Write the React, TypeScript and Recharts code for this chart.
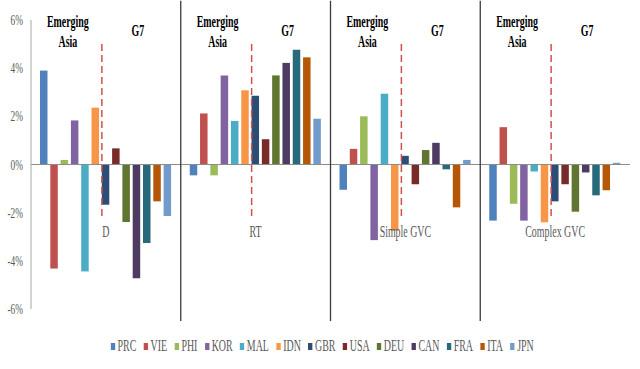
import React from "react";
import { Bar, BarChart, Legend, ReferenceLine, XAxis, YAxis } from "recharts";

const panels = ["D", "RT", "Simple GVC", "Complex GVC"];
const countries = ["PRC", "VIE", "PHI", "KOR", "MAL", "IDN", "GBR", "USA", "DEU", "CAN", "FRA", "ITA", "JPN"];
const colors = ["#4F81BD", "#C0504D", "#9BBB59", "#8064A2", "#4BACC6", "#F79646", "#2C4D75", "#772C2A", "#5F7530", "#4D3B62", "#276A7C", "#B65708", "#729ACA"];

// % change, one value per country
const dValues = [3.9, -4.32, 0.19, 1.83, -4.44, 2.36, -1.67, 0.67, -2.39, -4.72, -3.26, -1.53, -2.14];
const rtValues = [-0.45, 2.12, -0.45, 3.7, 1.81, 3.08, 2.85, 1.05, 3.7, 4.22, 4.76, 4.45, 1.9];
const simpleGvcValues = [-1.05, 0.65, 2.0, -3.14, 2.94, -2.75, 0.36, -0.82, 0.6, 0.9, -0.2, -1.78, 0.19];
const complexGvcValues = [-2.33, 1.55, -1.63, -2.33, -0.29, -2.4, -1.53, -0.82, -1.96, -0.33, -1.28, -1.07, 0.07];
const yTicks = [-6, -4, -2, 0, 2, 4, 6];

const series = [dValues, rtValues, simpleGvcValues, complexGvcValues];
const data = panels.map((panel, i) => {
  const row: Record<string, string | number> = { panel };
  countries.forEach((c, j) => {
    row[c] = series[i][j];
  });
  return row;
});

// the source picture is squeezed horizontally, text included
const SQUISH = 0.62;
const FONT = "'Liberation Serif', 'Times New Roman', serif";

function Squished({ x, y, children, anchor = "middle", size = 16, weight = "normal", fill = "#595959" }: any) {
  return (
    <text
      transform={`translate(${x},${y}) scale(${SQUISH},1)`}
      textAnchor={anchor}
      fontFamily={FONT}
      fontSize={size}
      fontWeight={weight}
      fill={fill}
    >
      {children}
    </text>
  );
}

function YTick({ x, y, payload }: any) {
  return (
    <Squished x={x} y={y + 5} anchor="end" size={15}>
      {payload.value}%
    </Squished>
  );
}

// panel name under the dashed divider, group headers above it
function PanelLabel({ viewBox, text }: any) {
  const { x, y, height } = viewBox;
  return (
    <g>
      <Squished x={x - 38} y={y - 17} weight="bold" fill="#000">Emerging</Squished>
      <Squished x={x - 38} y={y + 3} weight="bold" fill="#000">Asia</Squished>
      <Squished x={x + 32} y={y - 8} weight="bold" fill="#000">G7</Squished>
      <Squished x={x} y={y + height + 20}>{text}</Squished>
    </g>
  );
}

function DashedDivider(props: any) {
  return (
    <line
      x1={props.x1 - 4}
      y1={props.y1}
      x2={props.x2 - 4}
      y2={props.y2}
      stroke="#D0504D"
      strokeWidth={1.5}
      strokeDasharray="7 4"
    />
  );
}

function LegendContent() {
  return (
    <div
      style={{
        display: "flex",
        justifyContent: "center",
        whiteSpace: "nowrap",
        transform: `scaleX(${SQUISH})`,
        fontFamily: FONT,
        fontSize: 16,
        color: "#595959",
      }}
    >
      {countries.map((c, i) => (
        <span key={c} style={{ display: "inline-flex", alignItems: "center", marginRight: 12 }}>
          <span style={{ width: 7, height: 7, background: colors[i], marginRight: 4 }} />
          {c}
        </span>
      ))}
    </div>
  );
}

export default function App() {
  return (
    <div style={{ position: "absolute", left: 0, top: 0, background: "#fff" }}>
      <BarChart
        width={640}
        height={369}
        data={data}
        margin={{ top: 20, right: 10, left: 0, bottom: 60 }}
        barSize={7.5}
        barGap={2.8}
      >
        <XAxis dataKey="panel" hide />
        <YAxis
          domain={[-6, 6]}
          ticks={yTicks}
          interval={0}
          width={31}
          axisLine={{ stroke: "#A6A6A6" }}
          tickLine={false}
          tick={<YTick />}
        />
        <ReferenceLine y={0} stroke="#8C8C8C" />
        {countries.map((c, i) => (
          <Bar key={c} dataKey={c} fill={colors[i]} isAnimationActive={false} />
        ))}
        {panels.slice(1).map((p) => (
          <ReferenceLine
            key={"sep" + p}
            segment={[{ x: p, y: 6.8 }, { x: p, y: -6.5 }]}
            position="start"
            ifOverflow="visible"
            stroke="#3A3A3A"
            strokeWidth={1.3}
          />
        ))}
        {panels.map((p) => (
          <ReferenceLine
            key={"div" + p}
            segment={[{ x: p, y: 5 }, { x: p, y: -2.2 }]}
            ifOverflow="visible"
            shape={DashedDivider}
            label={<PanelLabel text={p} />}
          />
        ))}
        <Legend
          layout="horizontal"
          verticalAlign="middle"
          align="center"
          content={<LegendContent />}
          wrapperStyle={{ top: 337, left: 6, width: 640 }}
        />
      </BarChart>
    </div>
  );
}
